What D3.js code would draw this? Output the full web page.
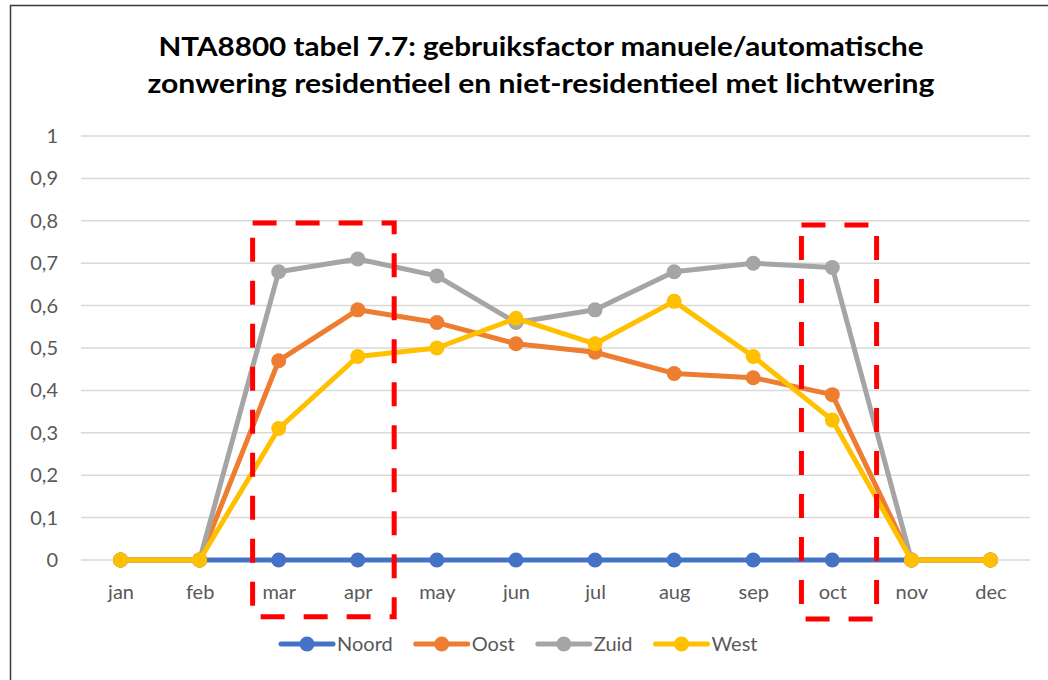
<!DOCTYPE html>
<html>
<head>
<meta charset="utf-8">
<script src="https://cdn.jsdelivr.net/npm/d3@7"></script>
<style>
  body { margin: 0; background: #fff; }
  svg { display: block; font-family: Lato, "Open Sans", sans-serif; }
</style>
</head>
<body>
<div id="chart"></div>
<script>
const months = ["jan", "feb", "mar", "apr", "may", "jun", "jul", "aug", "sep", "oct", "nov", "dec"];
const noord = [0, 0, 0, 0, 0, 0, 0, 0, 0, 0, 0, 0];
const oost = [0, 0, 0.47, 0.59, 0.56, 0.51, 0.49, 0.44, 0.43, 0.39, 0, 0];
const zuid = [0, 0, 0.68, 0.71, 0.67, 0.56, 0.59, 0.68, 0.70, 0.69, 0, 0];
const west = [0, 0, 0.31, 0.48, 0.50, 0.57, 0.51, 0.61, 0.48, 0.33, 0, 0];
const seriesNames = ["Noord", "Oost", "Zuid", "West"];
const seriesColors = ["#4472C4", "#ED7D31", "#A5A5A5", "#FFC000"];
const yTicks = [0, 0.1, 0.2, 0.3, 0.4, 0.5, 0.6, 0.7, 0.8, 0.9, 1];
// highlight boxes in data units: [month index from, to], [value bottom, top]
const boxes = [
  { x: [1.67, 3.46], y: [-0.134, 0.795] },
  { x: [8.61, 9.56], y: [-0.139, 0.79] },
];

const width = 1048, height = 680;
const plot = { left: 81, right: 1030, top: 136, bottom: 560 };

const svg = d3.select("#chart").append("svg")
  .attr("width", width).attr("height", height);

// chart border (runs off the right/bottom edge like the screenshot)
svg.append("rect")
  .attr("x", 10.5).attr("y", 5.5)
  .attr("width", width + 20).attr("height", height + 20)
  .attr("fill", "#fff").attr("stroke", "#3a3a3a").attr("stroke-width", 1.5);

const x = d3.scalePoint().domain(months).range([plot.left, plot.right]).padding(0.5);
const xi = d3.scaleLinear().domain([0, 11]).range([x("jan"), x("dec")]);
const y = d3.scaleLinear().domain([0, 1]).range([plot.bottom, plot.top]);

// title
const title = svg.append("text")
  .attr("x", 541).attr("text-anchor", "middle")
  .attr("font-weight", "bold").attr("font-size", 26).attr("fill", "#000");
title.append("tspan").attr("x", 541).attr("y", 56)
  .attr("textLength", 765).attr("lengthAdjust", "spacingAndGlyphs")
  .text("NTA8800 tabel 7.7: gebruiksfactor manuele/automatische");
title.append("tspan").attr("x", 541).attr("y", 93)
  .attr("textLength", 787).attr("lengthAdjust", "spacingAndGlyphs")
  .text("zonwering residentieel en niet-residentieel met lichtwering");

// gridlines
svg.append("g")
  .selectAll("line")
  .data(yTicks)
  .join("line")
  .attr("x1", plot.left).attr("x2", plot.right)
  .attr("y1", d => y(d)).attr("y2", d => y(d))
  .attr("stroke", "#D9D9D9").attr("stroke-width", 1.5);

// y axis labels
const yAxis = svg.append("g")
  .attr("transform", `translate(${plot.left - 15},0)`)
  .call(d3.axisLeft(y).tickValues(yTicks).tickSize(0).tickPadding(8)
    .tickFormat(d => String(d).replace(".", ",")));
yAxis.select(".domain").remove();
yAxis.selectAll("text").attr("font-size", 20).attr("fill", "#595959")
  .attr("font-family", "Lato, sans-serif");

// x axis labels
const xAxis = svg.append("g")
  .attr("transform", `translate(0,${plot.bottom + 14})`)
  .call(d3.axisBottom(x).tickSize(0).tickPadding(11));
xAxis.select(".domain").remove();
xAxis.selectAll("text").attr("font-size", 20).attr("fill", "#595959")
  .attr("font-family", "Lato, sans-serif");

// series
const seriesData = [noord, oost, zuid, west];
const line = d3.line().x((d, i) => x(months[i])).y(d => y(d));

seriesData.forEach((vals, s) => {
  const g = svg.append("g");
  g.append("path")
    .datum(vals)
    .attr("d", line)
    .attr("fill", "none")
    .attr("stroke", seriesColors[s])
    .attr("stroke-width", 5)
    .attr("stroke-linejoin", "round")
    .attr("stroke-linecap", "round");
  g.selectAll("circle")
    .data(vals)
    .join("circle")
    .attr("cx", (d, i) => x(months[i]))
    .attr("cy", d => y(d))
    .attr("r", 7.5)
    .attr("fill", seriesColors[s]);
});

// red dashed highlight boxes
svg.append("g")
  .selectAll("rect")
  .data(boxes)
  .join("rect")
  .attr("x", d => xi(d.x[0]))
  .attr("y", d => y(d.y[1]))
  .attr("width", d => xi(d.x[1]) - xi(d.x[0]))
  .attr("height", d => y(d.y[0]) - y(d.y[1]))
  .attr("fill", "none")
  .attr("stroke", "#FF0000")
  .attr("stroke-width", 5)
  .attr("stroke-dasharray", "24,19");

// legend
const legend = svg.append("g").attr("transform", "translate(281,644)");
let lx = 0;
seriesNames.forEach((name, s) => {
  const item = legend.append("g").attr("transform", `translate(${lx},0)`);
  item.append("line")
    .attr("x1", 0).attr("x2", 52).attr("y1", 0).attr("y2", 0)
    .attr("stroke", seriesColors[s]).attr("stroke-width", 5)
    .attr("stroke-linecap", "round");
  item.append("circle").attr("cx", 26).attr("cy", 0).attr("r", 7.5)
    .attr("fill", seriesColors[s]);
  const t = item.append("text")
    .attr("x", 56).attr("y", 0).attr("dy", "0.35em")
    .attr("font-size", 20).attr("fill", "#595959")
    .text(name);
  lx += 56 + t.node().getComputedTextLength() + 23;
});
</script>
</body>
</html>
